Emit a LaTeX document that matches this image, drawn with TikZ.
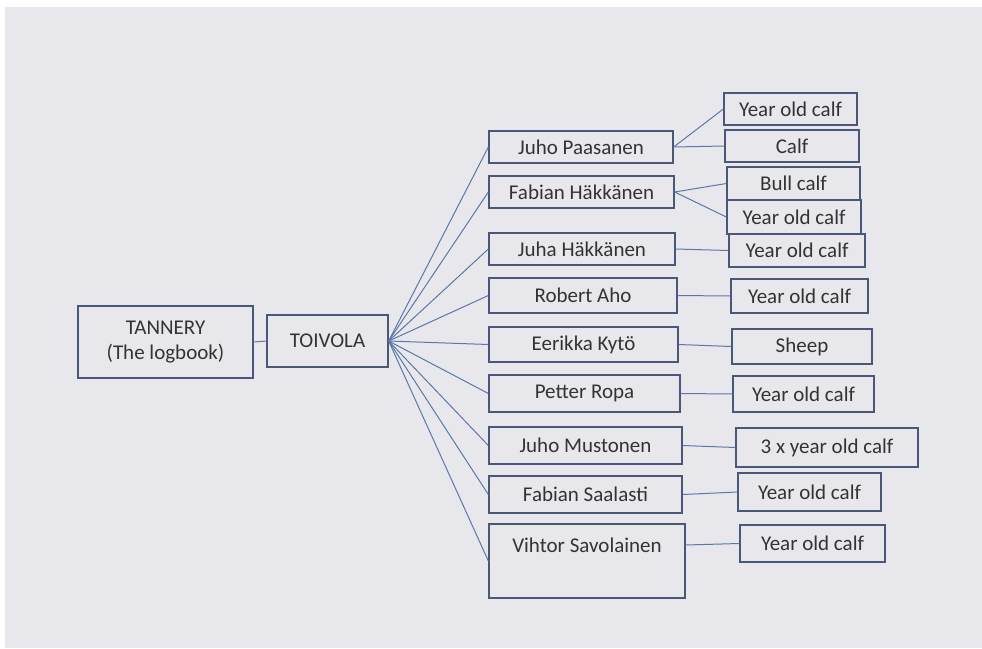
\documentclass[tikz,border=0pt]{standalone}
\usepackage{fontspec}
\setmainfont{Carlito}
\definecolor{bg}{HTML}{E8E8EC}
\definecolor{boxc}{HTML}{4A5878}
\definecolor{linec}{HTML}{5B78A8}
\definecolor{txt}{HTML}{333336}
\tikzset{
  box/.style={draw=boxc, line width=1.3pt, inner sep=0pt, text=txt, font=\fontsize{21}{25}\selectfont, align=center},
  conn/.style={draw=linec, line width=1pt},
}
\begin{document}
\begin{tikzpicture}[x=1pt,y=-1pt]
\fill[white] (0,0) rectangle (982,648);
\fill[bg] (5,7) rectangle (982,648);
\useasboundingbox (0,0) rectangle (982,648);

\node[box, minimum width=175, minimum height=72] (tan) at (165.5,342) {TANNERY\\(The logbook)};
\node[box, minimum width=121, minimum height=52] (toi) at (327.5,341) {TOIVOLA};

\node[box, minimum width=184, minimum height=32] (jp) at (581,147) {Juho Paasanen};
\node[box, minimum width=185, minimum height=32] (fh) at (581.5,192) {Fabian Häkkänen};
\node[box, minimum width=186, minimum height=32] (jh) at (582,249) {Juha Häkkänen};
\node[box, minimum width=188, minimum height=35] (ra) at (583,295.5) {Robert Aho};
\node[box, minimum width=189, minimum height=35] (ek) at (583.5,344.5) {Eerikka Kytö};
\node[box, minimum width=191, minimum height=37] (pr) at (584.5,393.5) {Petter Ropa};
\node[box, minimum width=193, minimum height=37] (jm) at (585.5,445.5) {Juho Mustonen};
\node[box, minimum width=193, minimum height=37] (fs) at (585.5,494.5) {Fabian Saalasti};
\node[box, minimum width=196, minimum height=74] (vs) at (587,561) {};
\node[box, draw=none] (vst) at (587,545) {Vihtor Savolainen};

\node[box, minimum width=133, minimum height=32] (y1) at (790.5,109) {Year old calf};
\node[box, minimum width=134, minimum height=32] (c1) at (792,146) {Calf};
\node[box, minimum width=133, minimum height=33] (bc) at (793.5,183.5) {Bull calf};
\node[box, minimum width=134, minimum height=34] (y2) at (794,217) {Year old calf};
\node[box, minimum width=136, minimum height=33] (y3) at (797,250.5) {Year old calf};
\node[box, minimum width=137, minimum height=34] (y4) at (799.5,296) {Year old calf};
\node[box, minimum width=140, minimum height=35] (sh) at (802,346.5) {Sheep};
\node[box, minimum width=141, minimum height=36] (y5) at (803.5,394) {Year old calf};
\node[box, minimum width=182, minimum height=39] (m3) at (827,447.5) {3 x year old calf};
\node[box, minimum width=143, minimum height=38] (y6) at (809.5,492) {Year old calf};
\node[box, minimum width=145, minimum height=37] (y7) at (812.5,543.5) {Year old calf};

\draw[conn] (tan.east) -- (toi.west);
\foreach \n in {jp,fh,jh,ra,ek,pr,jm,fs,vs}
  \draw[conn] (toi.east) -- (\n.west);

\draw[conn] (jp.east) -- (y1.west);
\draw[conn] (jp.east) -- (c1.west);
\draw[conn] (fh.east) -- (bc.west);
\draw[conn] (fh.east) -- (y2.west);
\draw[conn] (jh.east) -- (y3.west);
\draw[conn] (ra.east) -- (y4.west);
\draw[conn] (ek.east) -- (sh.west);
\draw[conn] (pr.east) -- (y5.west);
\draw[conn] (jm.east) -- (m3.west);
\draw[conn] (fs.east) -- (y6.west);
\draw[conn] (vst -| vs.east) -- (y7.west);
\end{tikzpicture}
\end{document}
